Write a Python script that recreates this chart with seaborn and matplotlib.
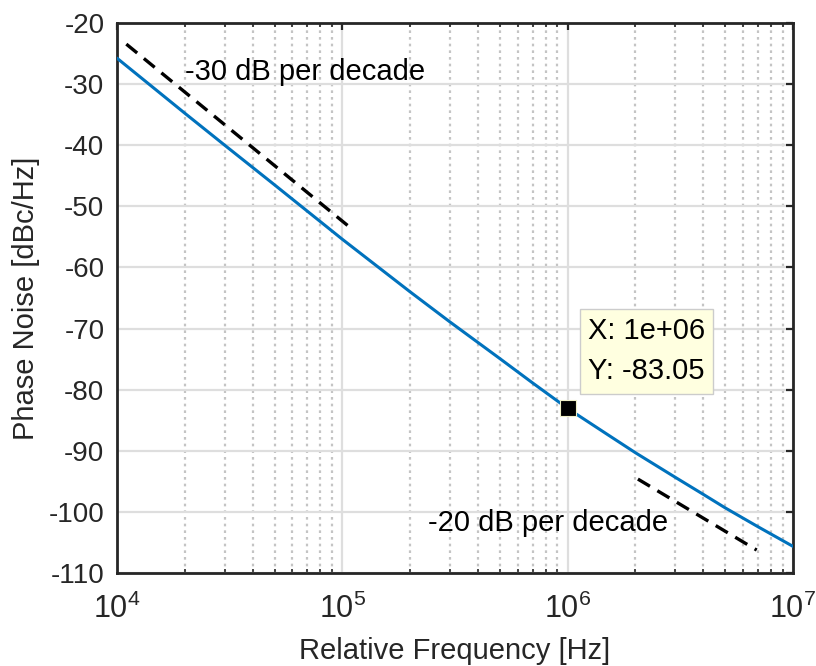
import numpy as np
import pandas as pd
import matplotlib
matplotlib.use("Agg")
import matplotlib.pyplot as plt
from matplotlib.ticker import LogLocator, NullFormatter
import seaborn as sns

# Phase-noise curve (offset frequency in Hz, level in dBc/Hz)
freq_hz = [1e4, 2e4, 3e4, 5e4, 1e5, 2e5, 3e5, 5e5, 7e5, 1e6,
           1.5e6, 2e6, 3e6, 4e6, 5e6, 7e6, 1e7]
phase_noise = [-25.8, -34.8, -40.0, -46.5, -55.4, -64.0, -68.9, -74.9, -78.9, -83.05,
               -87.3, -90.3, -94.3, -97.1, -99.3, -102.4, -105.6]

# Asymptote guides
slope30_f = [1.1e4, 1.06e5]
slope30_db = [-23.5, -53.2]
slope20_f = [2.05e6, 6.9e6]
slope20_db = [-94.6, -106.2]

# Guide labels
label30 = "-30 dB per decade"
label30_pos = (2.0e4, -28.1)
label20 = "-20 dB per decade"
label20_pos = (2.4e5, -101.8)

# Data tip
tip_x = 1e6
tip_y = -83.05

y_ticks = list(range(-110, -19, 10))

sns.set_theme(style="white")
plt.rcParams["font.family"] = ["Liberation Sans", "DejaVu Sans"]
plt.rcParams["mathtext.fontset"] = "custom"
plt.rcParams["mathtext.rm"] = "Liberation Sans"
plt.rcParams["mathtext.it"] = "Liberation Sans:italic"
plt.rcParams["mathtext.default"] = "regular"
plt.rcParams["axes.unicode_minus"] = False

FS_TICK = 20
FS = 21
DARK = "#262626"

fig = plt.figure(figsize=(8.16, 6.66), dpi=100)
ax = fig.add_axes([117 / 816, 1 - 573.3 / 666, (793 - 117) / 816, (573.3 - 22.7) / 666])
ax.set_xscale("log")

df = pd.DataFrame({"f": freq_hz, "pn": phase_noise})
sns.lineplot(data=df, x="f", y="pn", ax=ax, color="#0072BD", linewidth=2.2, zorder=3)

g30 = pd.DataFrame({"f": slope30_f, "pn": slope30_db})
g20 = pd.DataFrame({"f": slope20_f, "pn": slope20_db})
for g in (g30, g20):
    sns.lineplot(data=g, x="f", y="pn", ax=ax, color="black", linewidth=2.4, zorder=3)
    ax.lines[-1].set_dashes([4.2, 2.6])

ax.text(*label30_pos, label30, fontsize=FS, ha="left", va="center", color="black")
ax.text(*label20_pos, label20, fontsize=FS, ha="left", va="center", color="black")

# Data tip marker and box
ax.plot([tip_x], [tip_y], marker="s", markersize=11, markerfacecolor="black",
        markeredgecolor="#f0f0c8", markeredgewidth=0.8, linestyle="none", zorder=5)
ax.annotate(f"X: {tip_x:.0e}\nY: {tip_y:.2f}", xy=(tip_x, tip_y), xycoords="data",
            xytext=(20, 23), textcoords="offset pixels", ha="left", va="bottom",
            fontsize=FS, linespacing=1.55, color="black", zorder=6,
            bbox=dict(boxstyle="square,pad=0.28", facecolor="#ffffe0", edgecolor="#cccccc",
                      linewidth=1.0))

ax.set_xlim(1e4, 1e7)
ax.set_ylim(-110, -20)
ax.set_yticks(y_ticks)
ax.xaxis.set_major_locator(LogLocator(base=10, numticks=10))
ax.xaxis.set_minor_locator(LogLocator(base=10, subs=np.arange(2, 10), numticks=20))
ax.xaxis.set_minor_formatter(NullFormatter())

ax.grid(True, which="major", axis="both", color="#dedede", linewidth=1.6, linestyle="-")
ax.grid(True, which="minor", axis="x", color="#c4c4c4", linewidth=1.6, linestyle=(0, (1.2, 1.8)))
ax.set_axisbelow(True)

for s in ax.spines.values():
    s.set_visible(True)
    s.set_color(DARK)
    s.set_linewidth(2.0)

ax.tick_params(which="major", direction="in", length=5, width=1.6, color=DARK,
               top=True, right=True, labelsize=FS_TICK, labelcolor=DARK, pad=9)
ax.tick_params(which="minor", direction="in", length=3, width=1.2, color=DARK,
               top=True, bottom=True)
ax.tick_params(axis="x", which="major", pad=15, labelsize=22)

ax.set_xlabel("Relative Frequency [Hz]", fontsize=FS, color=DARK, labelpad=8)
ax.set_ylabel("Phase Noise [dBc/Hz]", fontsize=FS, color=DARK, labelpad=6)

fig.savefig("out.png", dpi=100, facecolor="white")
